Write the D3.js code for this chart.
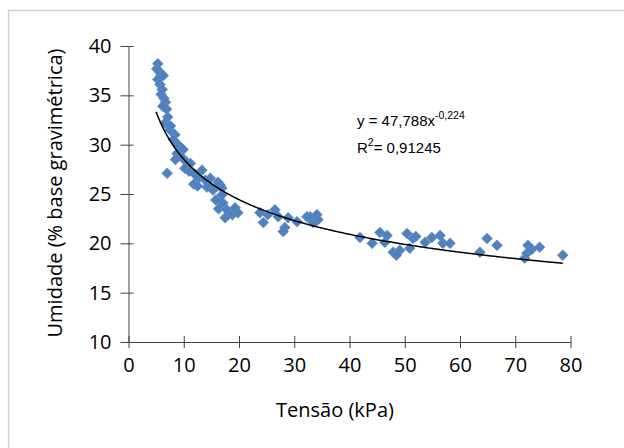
<!DOCTYPE html>
<html>
<head>
<meta charset="utf-8">
<script src="https://cdn.jsdelivr.net/npm/d3@7"></script>
<style>
  body { margin: 0; background: #fff; }
  text { font-family: "Open Sans", "Noto Sans", sans-serif; fill: #000; }
</style>
</head>
<body>
<div id="chart"></div>
<script>
// tensao (kPa) and umidade (%)
var tensao = [5.3, 5.1, 5.6, 5.9, 5.3, 6.3, 5.7, 6.1, 5.9, 6.4, 6.7, 6.2, 6.9, 6.6, 7.5, 7.1,
  8.4, 8.1, 7.6, 9.0, 9.9, 8.8, 9.7, 10.6, 11.2, 8.5, 10.2, 11.0, 12.0, 12.7, 13.3, 11.8,
  13.9, 12.5, 14.8, 14.2, 14.8, 15.3, 16.2, 16.6, 16.9, 16.9, 15.8, 17.1, 16.3, 17.8, 18.8,
  19.3, 17.5, 19.8, 7.0,
  23.8, 24.4, 25.2, 26.5, 27.1, 28.3, 28.0, 28.9, 30.5, 32.3, 32.9, 33.4, 33.8, 34.1, 34.3,
  41.9, 44.1, 45.5, 46.8, 46.4, 47.9, 49.1, 48.5, 50.4, 51.5, 50.9, 52.0, 53.7, 54.9, 56.4,
  56.9, 58.2, 63.6, 64.9, 66.7, 71.7, 72.1, 72.3, 73.0, 74.4, 78.6];
var umidade = [38.2, 37.7, 37.4, 37.0, 36.6, 37.0, 36.1, 35.6, 35.1, 34.7, 34.3, 33.9, 33.6, 32.2, 31.5, 32.8,
  31.0, 30.5, 31.9, 30.0, 29.5, 29.1, 28.7, 28.2, 28.1, 28.5, 27.6, 27.3, 27.0, 26.6, 27.4, 26.0,
  26.4, 25.8, 26.6, 25.7, 25.7, 25.4, 26.2, 25.9, 25.6, 24.9, 24.4, 24.1, 23.5, 23.4, 22.9,
  23.6, 22.6, 23.1, 27.1,
  23.1, 22.1, 22.9, 23.4, 22.7, 21.6, 21.2, 22.6, 22.2, 22.7, 22.7, 22.1, 22.2, 22.9, 22.4,
  20.6, 20.0, 21.1, 20.8, 20.1, 19.1, 19.3, 18.8, 21.0, 20.5, 19.5, 20.7, 20.1, 20.6, 20.8,
  20.0, 20.0, 19.1, 20.5, 19.8, 18.5, 19.0, 19.8, 19.4, 19.6, 18.8];

var xTicks = [0, 10, 20, 30, 40, 50, 60, 70, 80];
var yTicks = [10, 15, 20, 25, 30, 35, 40];

// power trendline shown on the chart
var coefA = 47.788, coefB = -0.224;
var trendRange = [5, 78.6];

var width = 624, height = 448;

var svg = d3.select("#chart")
    .append("svg")
    .attr("width", width)
    .attr("height", height);

// outer chart frame
svg.append("rect")
    .attr("x", 8.5).attr("y", 10.5)
    .attr("width", 640).attr("height", 460)
    .attr("fill", "none")
    .attr("stroke", "#d0d0d0")
    .attr("stroke-width", 1.5);

var x = d3.scaleLinear().domain([0, 80]).range([128.5, 570.5]);
var y = d3.scaleLinear().domain([10, 40]).range([342, 46]);

// x axis (ticks cross the line)
svg.append("g")
    .attr("transform", "translate(0,342)")
    .call(d3.axisBottom(x).tickValues(xTicks).tickSizeInner(6).tickSizeOuter(0).tickPadding(10))
    .call(function(g) {
      g.selectAll("text").style("font-size", "20px").attr("fill", "#000");
      g.selectAll("line, path").attr("stroke", "#404040");
    });
svg.append("g")
    .attr("transform", "translate(0,342)")
    .call(d3.axisTop(x).tickValues(xTicks).tickSize(6).tickFormat(""))
    .call(function(g) {
      g.select(".domain").remove();
      g.selectAll("line").attr("stroke", "#404040");
    });

// y axis
svg.append("g")
    .attr("transform", "translate(128.5,0)")
    .call(d3.axisLeft(y).tickValues(yTicks).tickSizeInner(8).tickSizeOuter(0).tickPadding(9))
    .call(function(g) {
      g.selectAll("text").style("font-size", "20px").attr("fill", "#000");
      g.selectAll("line, path").attr("stroke", "#404040");
    });
svg.append("g")
    .attr("transform", "translate(128.5,0)")
    .call(d3.axisRight(y).tickValues(yTicks).tickSize(5).tickFormat(""))
    .call(function(g) {
      g.select(".domain").remove();
      g.selectAll("line").attr("stroke", "#404040");
    });

// points
var pts = tensao.map(function(d, i) { return {x: d, y: umidade[i]}; });
var diamond = d3.symbol().type(d3.symbolSquare).size(60);
svg.append("g")
    .selectAll("path")
    .data(pts)
    .enter().append("path")
    .attr("d", diamond)
    .attr("transform", function(d) { return "translate(" + x(d.x) + "," + y(d.y) + ") rotate(45)"; })
    .attr("fill", "#4f81bd")
    .attr("stroke", "#6a94c8")
    .attr("stroke-width", 0.5);

// trendline
var trend = d3.range(trendRange[0], trendRange[1], 0.25).concat([trendRange[1]])
    .map(function(t) { return {x: t, y: coefA * Math.pow(t, coefB)}; });
svg.append("path")
    .datum(trend)
    .attr("fill", "none")
    .attr("stroke", "#000")
    .attr("stroke-width", 1.5)
    .attr("d", d3.line().x(function(d) { return x(d.x); }).y(function(d) { return y(d.y); }));

// equation labels
var eqFont = "'Liberation Sans Narrow', 'Liberation Sans', sans-serif";
var eq = svg.append("text")
    .attr("x", 357).attr("y", 126)
    .style("font-family", eqFont)
    .style("font-size", "15px");
eq.append("tspan").text("y = 47,788x");
eq.append("tspan").attr("dy", -7).style("font-size", "10.5px").text("-0,224");

var r2 = svg.append("text")
    .attr("x", 357).attr("y", 153)
    .style("font-family", eqFont)
    .style("font-size", "15px");
r2.append("tspan").text("R");
r2.append("tspan").attr("dy", -7).style("font-size", "10.5px").text("2");
r2.append("tspan").attr("dy", 7).text("= 0,91245");

// axis titles
svg.append("text")
    .attr("x", 335).attr("y", 417)
    .style("text-anchor", "middle")
    .style("font-size", "20px")
    .text("Tensão (kPa)");

svg.append("text")
    .attr("transform", "translate(62,193) rotate(-90)")
    .style("text-anchor", "middle")
    .style("font-size", "20px")
    .text("Umidade (% base gravimétrica)");
</script>
</body>
</html>
